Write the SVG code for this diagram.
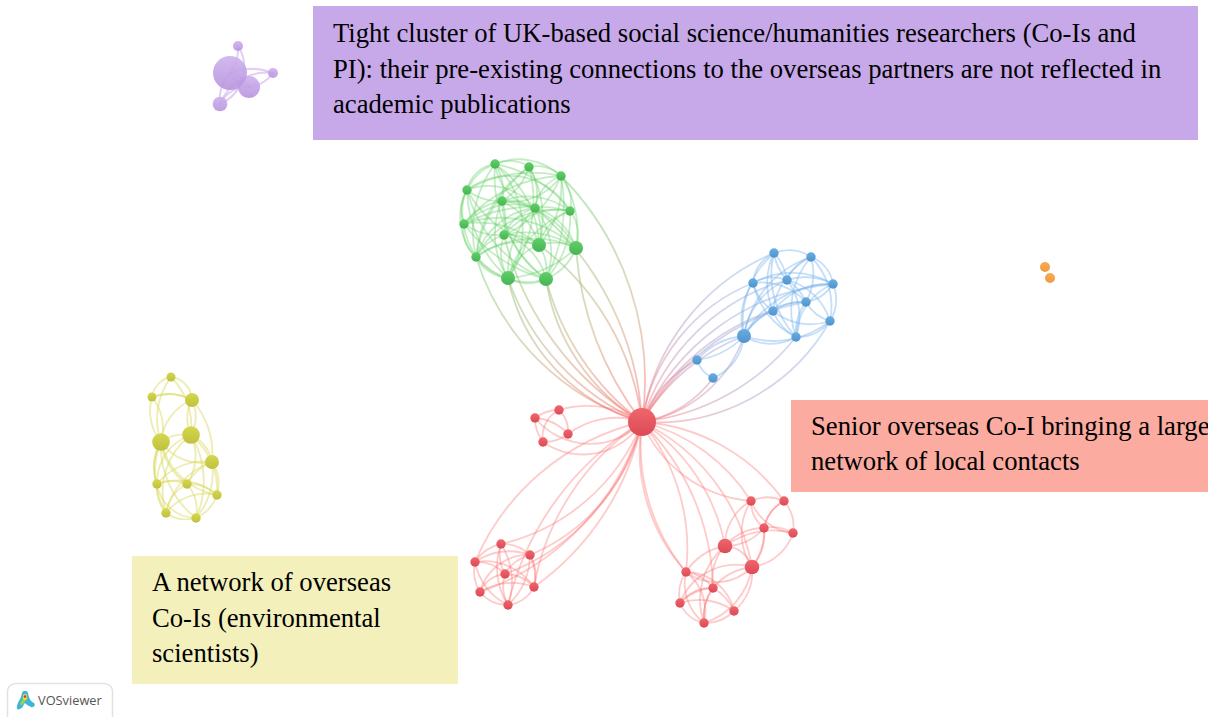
<svg xmlns="http://www.w3.org/2000/svg" width="1208" height="717" viewBox="0 0 1208 717">
<style>
.e{fill:none;stroke-width:1.8;stroke-linecap:round}
.eg{stroke:#63cf66;stroke-opacity:.38}
.eb{stroke:#6fb0ee;stroke-opacity:.4}
.ey{stroke:#dcdc66;stroke-opacity:.5}
.er{stroke:#fb6e6e;stroke-opacity:.36}
.ep{stroke:#c9a8ee;stroke-opacity:.55;stroke-width:2}
.egr{stroke:url(#gr);stroke-opacity:.5}
.ebr{stroke:url(#br);stroke-opacity:.42}
.g{fill:url(#ng)}.b{fill:url(#nb)}.y{fill:url(#ny)}.r{fill:url(#nr)}.p{fill:url(#np);fill-opacity:.9}.o{fill:url(#no)}
.box{font-family:"Liberation Serif","Times New Roman",serif;font-size:26.67px;fill:#000}
</style>
<defs>
<filter id="soft" x="-5%" y="-5%" width="110%" height="110%" color-interpolation-filters="sRGB"><feGaussianBlur stdDeviation="0.45"/></filter>
<linearGradient id="ng" x1="0" y1="0" x2="0" y2="1"><stop offset="0" stop-color="#62cf68"/><stop offset="1" stop-color="#45b553"/></linearGradient>
<linearGradient id="nb" x1="0" y1="0" x2="0" y2="1"><stop offset="0" stop-color="#69ace0"/><stop offset="1" stop-color="#4f94cd"/></linearGradient>
<linearGradient id="ny" x1="0" y1="0" x2="0" y2="1"><stop offset="0" stop-color="#d6d750"/><stop offset="1" stop-color="#bfc13c"/></linearGradient>
<linearGradient id="nr" x1="0" y1="0" x2="0" y2="1"><stop offset="0" stop-color="#f0666a"/><stop offset="1" stop-color="#dc4a58"/></linearGradient>
<linearGradient id="np" x1="0" y1="0" x2="0" y2="1"><stop offset="0" stop-color="#cdb0ee"/><stop offset="1" stop-color="#b793dd"/></linearGradient>
<linearGradient id="no" x1="0" y1="0" x2="0" y2="1"><stop offset="0" stop-color="#f6ab55"/><stop offset="1" stop-color="#ee9a42"/></linearGradient>
<linearGradient id="gr" gradientUnits="userSpaceOnUse" x1="530" y1="230" x2="642" y2="422"><stop offset="0" stop-color="#7dd07a"/><stop offset=".55" stop-color="#c9a97f"/><stop offset="1" stop-color="#fb6e6e"/></linearGradient>
<linearGradient id="br" gradientUnits="userSpaceOnUse" x1="790" y1="280" x2="642" y2="422"><stop offset="0" stop-color="#7fb4ee"/><stop offset=".55" stop-color="#a98fc0"/><stop offset="1" stop-color="#fb6e6e"/></linearGradient>
</defs>
<g id="annotations">
<rect x="313" y="6" width="885" height="134" fill="#c7a9e9"/>
<rect x="791" y="400" width="417" height="92" fill="#fbaba0"/>
<rect x="132" y="556" width="326" height="128" fill="#f3f0bc"/>
</g>
<g id="connectors" filter="url(#soft)">
<!-- green -->
<path class="e eg" d="M495 164A34 34 0 0 1 529 167"/><path class="e eg" d="M529 167A34 34 0 0 1 561 176"/><path class="e eg" d="M495 164A62 62 0 0 1 561 176"/><path class="e eg" d="M467 190A34 34 0 0 1 495 164"/><path class="e eg" d="M464 224A50 50 0 0 1 495 164"/><path class="e eg" d="M464 224A36 36 0 0 1 467 190"/><path class="e eg" d="M476 257A58 58 0 0 1 467 190"/><path class="e eg" d="M476 257A34 34 0 0 1 464 224"/><path class="e eg" d="M508 278A40 40 0 0 1 476 257"/><path class="e eg" d="M508 278A62 62 0 0 1 464 224"/><path class="e eg" d="M546 279A40 40 0 0 1 508 278"/><path class="e eg" d="M546 279A64 64 0 0 1 476 257"/><path class="e eg" d="M576 248A55 55 0 0 1 546 279"/><path class="e eg" d="M576 248A110 110 0 0 1 508 278"/><path class="e eg" d="M570 211A40 40 0 0 1 576 248"/><path class="e eg" d="M570 211A90 90 0 0 1 546 279"/><path class="e eg" d="M561 176A38 38 0 0 1 570 211"/><path class="e eg" d="M561 176A100 100 0 0 1 576 248"/><path class="e eg" d="M561 176A160 160 0 0 1 546 279"/>
<path class="e eg" d="M495 164A50 50 0 0 1 502 201"/><path class="e eg" d="M535 208A52 52 0 0 1 495 164"/><path class="e eg" d="M529 167A60 60 0 0 1 502 201"/><path class="e eg" d="M529 167A50 50 0 0 1 535 208"/><path class="e eg" d="M561 176A60 60 0 0 1 502 201"/><path class="e eg" d="M535 208A40 40 0 0 1 561 176"/><path class="e eg" d="M467 190A60 60 0 0 1 535 208"/><path class="e eg" d="M467 190A70 70 0 0 1 570 211"/><path class="e eg" d="M502 201A50 50 0 0 1 467 190"/><path class="e eg" d="M464 224A60 60 0 0 1 502 201"/><path class="e eg" d="M464 224A70 70 0 0 1 535 208"/><path class="e eg" d="M504 235A60 60 0 0 1 464 224"/><path class="e eg" d="M464 224A110 110 0 0 1 576 248"/><path class="e eg" d="M464 224A90 90 0 0 1 539 245"/><path class="e eg" d="M502 201A70 70 0 0 1 570 211"/><path class="e eg" d="M502 201A50 50 0 0 1 535 208"/><path class="e eg" d="M502 201A60 60 0 0 1 504 235"/><path class="e eg" d="M504 235A50 50 0 0 1 535 208"/><path class="e eg" d="M504 235A70 70 0 0 1 570 211"/><path class="e eg" d="M504 235A50 50 0 0 1 539 245"/><path class="e eg" d="M504 235A90 90 0 0 1 576 248"/><path class="e eg" d="M476 257A50 50 0 0 1 504 235"/><path class="e eg" d="M476 257A70 70 0 0 1 535 208"/><path class="e eg" d="M476 257A90 90 0 0 1 570 211"/><path class="e eg" d="M476 257A70 70 0 0 1 539 245"/><path class="e eg" d="M476 257A100 100 0 0 1 576 248"/><path class="e eg" d="M502 201A70 70 0 0 1 539 245"/><path class="e eg" d="M502 201A90 90 0 0 1 576 248"/><path class="e eg" d="M535 208A60 60 0 0 1 576 248"/><path class="e eg" d="M535 208A50 50 0 0 1 539 245"/><path class="e eg" d="M539 245A50 50 0 0 1 570 211"/><path class="e eg" d="M539 245A50 50 0 0 1 576 248"/><path class="e eg" d="M508 278A50 50 0 0 1 504 235"/><path class="e eg" d="M508 278A80 80 0 0 1 502 201"/><path class="e eg" d="M504 235A60 60 0 0 1 546 279"/><path class="e eg" d="M508 278A50 50 0 0 1 539 245"/><path class="e eg" d="M539 245A50 50 0 0 1 546 279"/><path class="e eg" d="M535 208A70 70 0 0 1 546 279"/><path class="e eg" d="M546 279A100 100 0 0 1 502 201"/><path class="e eg" d="M508 278A90 90 0 0 1 535 208"/><path class="e eg" d="M508 278A100 100 0 0 1 570 211"/><path class="e eg" d="M495 164A90 90 0 0 1 508 278"/><path class="e eg" d="M529 167A130 130 0 0 1 508 278"/><path class="e eg" d="M529 167A100 100 0 0 1 539 245"/><path class="e eg" d="M495 164A100 100 0 0 1 539 245"/><path class="e eg" d="M476 257A110 110 0 0 1 495 164"/><path class="e eg" d="M476 257A120 120 0 0 1 529 167"/><path class="e eg" d="M561 176A110 110 0 0 1 504 235"/><path class="e eg" d="M561 176A90 90 0 0 1 539 245"/><path class="e eg" d="M467 190A130 130 0 0 1 561 176"/><path class="e eg" d="M467 190A110 110 0 0 0 539 245"/><path class="e eg" d="M467 190A130 130 0 0 0 546 279"/><path class="e eg" d="M467 190A120 120 0 0 0 508 278"/><path class="e eg" d="M464 224A150 150 0 0 1 570 211"/><path class="e eg" d="M464 224A150 150 0 0 0 546 279"/><path class="e eg" d="M495 164A130 130 0 0 0 546 279"/><path class="e eg" d="M529 167A140 140 0 0 0 476 257"/><path class="e eg" d="M561 176A130 130 0 0 0 464 224"/><path class="e eg" d="M570 211A120 120 0 0 0 495 164"/>
<!-- green to centre -->
<path class="e egr" d="M476 257A250 250 0 0 0 642 422"/><path class="e egr" d="M508 278A240 240 0 0 0 642 422"/><path class="e egr" d="M504 235A300 300 0 0 0 642 422"/><path class="e egr" d="M508 278A190 190 0 0 0 642 422"/><path class="e egr" d="M546 279A260 260 0 0 0 642 422"/><path class="e egr" d="M576 248A320 320 0 0 0 642 422"/><path class="e egr" d="M546 279A200 200 0 0 0 642 422"/><path class="e egr" d="M539 245A260 260 0 0 1 642 422"/><path class="e egr" d="M535 208A300 300 0 0 1 642 422"/><path class="e egr" d="M561 176A290 290 0 0 1 642 422"/>
<!-- blue -->
<path class="e eb" d="M774 253A40 40 0 0 1 811 257"/><path class="e eb" d="M811 257A34 34 0 0 1 833 284"/><path class="e eb" d="M833 284A40 40 0 0 1 830 321"/><path class="e eb" d="M811 257A70 70 0 0 1 830 321"/><path class="e eb" d="M830 321A40 40 0 0 1 796 337"/><path class="e eb" d="M796 337A50 50 0 0 1 744 336"/><path class="e eb" d="M830 321A90 90 0 0 1 744 336"/><path class="e eb" d="M753 283A36 36 0 0 1 774 253"/><path class="e eb" d="M744 336A60 60 0 0 1 753 283"/><path class="e eb" d="M744 336A90 90 0 0 1 774 253"/><path class="e eb" d="M774 253A50 50 0 0 1 787 280"/><path class="e eb" d="M787 280A50 50 0 0 1 774 253"/><path class="e eb" d="M787 280A40 40 0 0 1 811 257"/><path class="e eb" d="M787 280A60 60 0 0 1 833 284"/><path class="e eb" d="M753 283A40 40 0 0 1 787 280"/><path class="e eb" d="M753 283A80 80 0 0 1 833 284"/><path class="e eb" d="M753 283A60 60 0 0 1 806 302"/><path class="e eb" d="M753 283A50 50 0 0 0 773 311"/><path class="e eb" d="M753 283A80 80 0 0 0 796 337"/><path class="e eb" d="M774 253A70 70 0 0 0 773 311"/><path class="e eb" d="M774 253A90 90 0 0 0 796 337"/><path class="e eb" d="M811 257A60 60 0 0 1 806 302"/><path class="e eb" d="M811 257A80 80 0 0 0 796 337"/><path class="e eb" d="M811 257A70 70 0 0 0 773 311"/><path class="e eb" d="M833 284A40 40 0 0 1 806 302"/><path class="e eb" d="M773 311A70 70 0 0 1 833 284"/><path class="e eb" d="M787 280A50 50 0 0 1 806 302"/><path class="e eb" d="M787 280A60 60 0 0 1 830 321"/><path class="e eb" d="M787 280A60 60 0 0 1 796 337"/><path class="e eb" d="M744 336A70 70 0 0 1 787 280"/><path class="e eb" d="M744 336A70 70 0 0 1 806 302"/><path class="e eb" d="M744 336A100 100 0 0 1 833 284"/><path class="e eb" d="M744 336A60 60 0 0 1 773 311"/><path class="e eb" d="M744 336A100 100 0 0 1 811 257"/><path class="e eb" d="M773 311A50 50 0 0 1 806 302"/><path class="e eb" d="M773 311A60 60 0 0 0 830 321"/><path class="e eb" d="M773 311A50 50 0 0 0 796 337"/><path class="e eb" d="M806 302A40 40 0 0 0 830 321"/><path class="e eb" d="M796 337A50 50 0 0 1 806 302"/><path class="e eb" d="M796 337A60 60 0 0 1 833 284"/><path class="e eb" d="M697 360A70 70 0 0 1 744 336"/><path class="e eb" d="M697 360A30 30 0 0 0 713 378"/><path class="e eb" d="M713 378A50 50 0 0 0 744 336"/><path class="e eb" d="M744 336A80 80 0 0 1 697 360"/>
<!-- blue to centre -->
<path class="e ebr" d="M642 422A220 220 0 0 1 774 253"/><path class="e ebr" d="M642 422A180 180 0 0 1 753 283"/><path class="e ebr" d="M642 422A210 210 0 0 1 787 280"/><path class="e ebr" d="M642 422A230 230 0 0 1 806 302"/><path class="e ebr" d="M642 422A260 260 0 0 1 773 311"/><path class="e ebr" d="M642 422A230 230 0 0 1 833 284"/><path class="e ebr" d="M642 422A200 200 0 0 1 744 336"/><path class="e ebr" d="M642 422A120 120 0 0 1 697 360"/><path class="e ebr" d="M642 422A110 110 0 0 0 713 378"/><path class="e ebr" d="M642 422A130 130 0 0 0 744 336"/><path class="e ebr" d="M642 422A230 230 0 0 0 796 337"/><path class="e ebr" d="M642 422A200 200 0 0 0 830 321"/>
<!-- yellow -->
<path class="e ey" d="M152 397A24 24 0 0 1 171 377"/><path class="e ey" d="M171 377A24 24 0 0 1 192 400"/><path class="e ey" d="M152 397A50 50 0 0 1 192 400"/><path class="e ey" d="M192 400A50 50 0 0 0 152 397"/><path class="e ey" d="M161 442A50 50 0 0 1 152 397"/><path class="e ey" d="M161 442A70 70 0 0 1 171 377"/><path class="e ey" d="M161 442A50 50 0 0 1 192 400"/><path class="e ey" d="M152 397A50 50 0 0 1 161 442"/><path class="e ey" d="M191 435A40 40 0 0 1 192 400"/><path class="e ey" d="M192 400A40 40 0 0 1 191 435"/><path class="e ey" d="M171 377A70 70 0 0 1 191 435"/><path class="e ey" d="M161 442A40 40 0 0 1 191 435"/><path class="e ey" d="M191 435A36 36 0 0 1 212 462"/><path class="e ey" d="M192 400A80 80 0 0 1 212 462"/><path class="e ey" d="M161 442A50 50 0 0 0 212 462"/><path class="e ey" d="M212 462A40 40 0 0 1 217 495"/><path class="e ey" d="M212 462A70 70 0 0 1 196 518"/><path class="e ey" d="M212 462A50 50 0 0 0 187 484"/><path class="e ey" d="M212 462A60 60 0 0 0 157 484"/><path class="e ey" d="M212 462A70 70 0 0 0 166 513"/><path class="e ey" d="M161 442A50 50 0 0 0 157 484"/><path class="e ey" d="M157 484A50 50 0 0 1 161 442"/><path class="e ey" d="M161 442A80 80 0 0 0 166 513"/><path class="e ey" d="M161 442A60 60 0 0 0 187 484"/><path class="e ey" d="M161 442A70 70 0 0 0 217 495"/><path class="e ey" d="M161 442A90 90 0 0 0 196 518"/><path class="e ey" d="M191 435A50 50 0 0 0 157 484"/><path class="e ey" d="M191 435A50 50 0 0 1 187 484"/><path class="e ey" d="M191 435A70 70 0 0 0 166 513"/><path class="e ey" d="M191 435A90 90 0 0 1 196 518"/><path class="e ey" d="M191 435A70 70 0 0 1 217 495"/><path class="e ey" d="M157 484A40 40 0 0 1 187 484"/><path class="e ey" d="M157 484A60 60 0 0 1 217 495"/><path class="e ey" d="M166 513A40 40 0 0 1 157 484"/><path class="e ey" d="M157 484A40 40 0 0 0 196 518"/><path class="e ey" d="M187 484A40 40 0 0 1 217 495"/><path class="e ey" d="M166 513A40 40 0 0 1 187 484"/><path class="e ey" d="M187 484A40 40 0 0 1 196 518"/><path class="e ey" d="M166 513A50 50 0 0 1 217 495"/><path class="e ey" d="M196 518A40 40 0 0 0 217 495"/><path class="e ey" d="M196 518A36 36 0 0 1 166 513"/>
<!-- red top-left group -->
<path class="e er" d="M535 418A40 40 0 0 1 559 410"/><path class="e er" d="M559 410A30 30 0 0 1 568 434"/><path class="e er" d="M543 442A30 30 0 0 1 559 410"/><path class="e er" d="M535 418A40 40 0 0 0 543 442"/><path class="e er" d="M535 418A50 50 0 0 1 568 434"/><path class="e er" d="M568 434A40 40 0 0 1 543 442"/><path class="e er" d="M559 410A100 100 0 0 1 642 422"/><path class="e er" d="M568 434A80 80 0 0 1 642 422"/><path class="e er" d="M543 442A70 70 0 0 0 642 422"/><path class="e er" d="M535 418A72 72 0 0 0 642 422"/>
<!-- red south-west group -->
<path class="e er" d="M475 562A240 240 0 0 1 642 422"/><path class="e er" d="M501 544A200 200 0 0 0 642 422"/><path class="e er" d="M530 555A190 190 0 0 0 642 422"/><path class="e er" d="M505 574A220 220 0 0 0 642 422"/><path class="e er" d="M480 592A260 260 0 0 0 642 422"/><path class="e er" d="M534 587A250 250 0 0 1 642 422"/><path class="e er" d="M508 605A290 290 0 0 1 642 422"/><path class="e er" d="M534 587A270 270 0 0 0 642 422"/>
<path class="e er" d="M475 562A40 40 0 0 1 501 544"/><path class="e er" d="M501 544A40 40 0 0 1 530 555"/><path class="e er" d="M475 562A60 60 0 0 1 530 555"/><path class="e er" d="M480 592A40 40 0 0 1 475 562"/><path class="e er" d="M508 605A36 36 0 0 1 480 592"/><path class="e er" d="M534 587A34 34 0 0 1 508 605"/><path class="e er" d="M530 555A40 40 0 0 1 534 587"/><path class="e er" d="M534 587A50 50 0 0 0 530 555"/><path class="e er" d="M501 544A40 40 0 0 0 505 574"/><path class="e er" d="M501 544A70 70 0 0 0 508 605"/><path class="e er" d="M508 605A70 70 0 0 0 501 544"/><path class="e er" d="M475 562A40 40 0 0 1 505 574"/><path class="e er" d="M475 562A60 60 0 0 1 534 587"/><path class="e er" d="M475 562A60 60 0 0 0 508 605"/><path class="e er" d="M480 592A50 50 0 0 1 530 555"/><path class="e er" d="M505 574A40 40 0 0 1 530 555"/><path class="e er" d="M480 592A30 30 0 0 1 505 574"/><path class="e er" d="M480 592A60 60 0 0 1 534 587"/><path class="e er" d="M505 574A40 40 0 0 1 534 587"/><path class="e er" d="M505 574A40 40 0 0 0 508 605"/><path class="e er" d="M508 605A70 70 0 0 0 530 555"/>
<!-- red south-east group -->
<path class="e er" d="M642 422A190 190 0 0 1 784 501"/><path class="e er" d="M642 422A180 180 0 0 1 751 501"/><path class="e er" d="M642 422A130 130 0 0 0 751 501"/><path class="e er" d="M642 422A200 200 0 0 1 752 567"/><path class="e er" d="M642 422A190 190 0 0 1 725 546"/><path class="e er" d="M642 422A240 240 0 0 1 713 588"/><path class="e er" d="M642 422A200 200 0 0 1 686 572"/><path class="e er" d="M642 422A200 200 0 0 0 686 572"/><path class="e er" d="M642 422A180 180 0 0 0 686 572"/>
<path class="e er" d="M751 501A40 40 0 0 1 784 501"/><path class="e er" d="M764 528A40 40 0 0 1 784 501"/><path class="e er" d="M784 501A40 40 0 0 0 764 528"/><path class="e er" d="M751 501A34 34 0 0 0 764 528"/><path class="e er" d="M784 501A40 40 0 0 1 793 533"/><path class="e er" d="M751 501A50 50 0 0 0 793 533"/><path class="e er" d="M764 528A40 40 0 0 1 793 533"/><path class="e er" d="M725 546A50 50 0 0 1 764 528"/><path class="e er" d="M764 528A50 50 0 0 1 725 546"/><path class="e er" d="M725 546A80 80 0 0 1 793 533"/><path class="e er" d="M725 546A50 50 0 0 1 751 501"/><path class="e er" d="M752 567A50 50 0 0 0 793 533"/><path class="e er" d="M752 567A60 60 0 0 0 764 528"/><path class="e er" d="M752 567A60 60 0 0 1 751 501"/><path class="e er" d="M764 528A50 50 0 0 1 752 567"/><path class="e er" d="M725 546A30 30 0 0 1 752 567"/><path class="e er" d="M686 572A60 60 0 0 1 725 546"/><path class="e er" d="M713 588A50 50 0 0 1 725 546"/><path class="e er" d="M752 567A60 60 0 0 0 713 588"/><path class="e er" d="M752 567A60 60 0 0 0 680 603"/><path class="e er" d="M686 572A50 50 0 0 0 752 567"/><path class="e er" d="M752 567A50 50 0 0 1 734 611"/><path class="e er" d="M704 623A70 70 0 0 0 752 567"/><path class="e er" d="M686 572A40 40 0 0 1 713 588"/><path class="e er" d="M686 572A40 40 0 0 0 680 603"/><path class="e er" d="M686 572A50 50 0 0 1 734 611"/><path class="e er" d="M686 572A50 50 0 0 0 704 623"/><path class="e er" d="M686 572A50 50 0 0 1 704 623"/><path class="e er" d="M680 603A40 40 0 0 1 713 588"/><path class="e er" d="M680 603A60 60 0 0 1 734 611"/><path class="e er" d="M704 623A40 40 0 0 0 734 611"/><path class="e er" d="M680 603A34 34 0 0 0 704 623"/><path class="e er" d="M713 588A50 50 0 0 1 734 611"/><path class="e er" d="M704 623A50 50 0 0 1 713 588"/><path class="e er" d="M713 588A50 50 0 0 0 680 603"/><path class="e er" d="M713 588A50 50 0 0 0 704 623"/><path class="e er" d="M725 546A70 70 0 0 0 704 623"/>
<!-- purple -->
<path class="e ep" d="M238 46A40 40 0 0 1 230 73"/><path class="e ep" d="M230 73A60 60 0 0 1 273 73"/><path class="e ep" d="M273 73A34 34 0 0 1 249 87"/><path class="e ep" d="M220 104A50 50 0 0 1 273 73"/><path class="e ep" d="M220 104A40 40 0 0 1 230 73"/><path class="e ep" d="M220 104A30 30 0 0 1 249 87"/><path class="e ep" d="M230 73A26 26 0 0 1 249 87"/><path class="e ep" d="M249 87A26 26 0 0 1 230 73"/><path class="e ep" d="M238 46A40 40 0 0 1 220 104"/>
</g>
<g id="nodes" filter="url(#soft)">
<g id="n-g1"><circle class="g" cx="495" cy="164" r="4.7"/></g><g id="n-g2"><circle class="g" cx="529" cy="167" r="4.7"/></g><g id="n-g3"><circle class="g" cx="561" cy="176" r="4.7"/></g><g id="n-g4"><circle class="g" cx="467" cy="190" r="4.7"/></g><g id="n-g5"><circle class="g" cx="502" cy="201" r="4.7"/></g><g id="n-g6"><circle class="g" cx="535" cy="208" r="4.7"/></g><g id="n-g7"><circle class="g" cx="570" cy="211" r="4.7"/></g><g id="n-g8"><circle class="g" cx="464" cy="224" r="4.7"/></g><g id="n-g9"><circle class="g" cx="504" cy="235" r="4.7"/></g><g id="n-g10"><circle class="g" cx="539" cy="245" r="7"/></g><g id="n-g11"><circle class="g" cx="576" cy="248" r="7"/></g><g id="n-g12"><circle class="g" cx="476" cy="257" r="4.7"/></g><g id="n-g13"><circle class="g" cx="508" cy="278" r="7"/></g><g id="n-g14"><circle class="g" cx="546" cy="279" r="7"/></g>
<g id="n-b1"><circle class="b" cx="774" cy="253" r="4.7"/></g><g id="n-b2"><circle class="b" cx="811" cy="257" r="4.7"/></g><g id="n-b3"><circle class="b" cx="753" cy="283" r="4.7"/></g><g id="n-b4"><circle class="b" cx="787" cy="280" r="4.7"/></g><g id="n-b5"><circle class="b" cx="833" cy="284" r="4.7"/></g><g id="n-b6"><circle class="b" cx="806" cy="302" r="4.7"/></g><g id="n-b7"><circle class="b" cx="773" cy="311" r="4.7"/></g><g id="n-b8"><circle class="b" cx="830" cy="321" r="4.7"/></g><g id="n-b9"><circle class="b" cx="796" cy="337" r="4.7"/></g><g id="n-b10"><circle class="b" cx="744" cy="336" r="7"/></g><g id="n-b11"><circle class="b" cx="697" cy="360" r="4.7"/></g><g id="n-b12"><circle class="b" cx="713" cy="378" r="4.7"/></g>
<g id="n-y1"><circle class="y" cx="171" cy="377" r="4.5"/></g><g id="n-y2"><circle class="y" cx="152" cy="397" r="4.5"/></g><g id="n-y3"><circle class="y" cx="192" cy="400" r="7"/></g><g id="n-y4"><circle class="y" cx="161" cy="442" r="8.8"/></g><g id="n-y5"><circle class="y" cx="191" cy="435" r="8.8"/></g><g id="n-y6"><circle class="y" cx="212" cy="462" r="7"/></g><g id="n-y7"><circle class="y" cx="157" cy="484" r="4.7"/></g><g id="n-y8"><circle class="y" cx="187" cy="484" r="4.7"/></g><g id="n-y9"><circle class="y" cx="217" cy="495" r="4.7"/></g><g id="n-y10"><circle class="y" cx="166" cy="513" r="4.7"/></g><g id="n-y11"><circle class="y" cx="196" cy="518" r="4.7"/></g>
<g id="n-r0"><circle class="r" cx="642" cy="422" r="14"/></g>
<g id="n-r1"><circle class="r" cx="535" cy="418" r="4.7"/></g><g id="n-r2"><circle class="r" cx="559" cy="410" r="4.7"/></g><g id="n-r3"><circle class="r" cx="568" cy="434" r="4.7"/></g><g id="n-r4"><circle class="r" cx="543" cy="442" r="4.7"/></g>
<g id="n-r5"><circle class="r" cx="501" cy="544" r="4.7"/></g><g id="n-r6"><circle class="r" cx="475" cy="562" r="4.7"/></g><g id="n-r7"><circle class="r" cx="530" cy="555" r="4.7"/></g><g id="n-r8"><circle class="r" cx="505" cy="574" r="4.7"/></g><g id="n-r9"><circle class="r" cx="534" cy="587" r="4.7"/></g><g id="n-r10"><circle class="r" cx="480" cy="592" r="4.7"/></g><g id="n-r11"><circle class="r" cx="508" cy="605" r="4.7"/></g>
<g id="n-r12"><circle class="r" cx="751" cy="501" r="4.7"/></g><g id="n-r13"><circle class="r" cx="784" cy="501" r="4.7"/></g><g id="n-r14"><circle class="r" cx="764" cy="528" r="4.7"/></g><g id="n-r15"><circle class="r" cx="793" cy="533" r="4.7"/></g><g id="n-r16"><circle class="r" cx="725" cy="546" r="7.3"/></g><g id="n-r17"><circle class="r" cx="752" cy="567" r="7.3"/></g><g id="n-r18"><circle class="r" cx="686" cy="572" r="4.7"/></g><g id="n-r19"><circle class="r" cx="713" cy="588" r="4.7"/></g><g id="n-r20"><circle class="r" cx="680" cy="603" r="4.7"/></g><g id="n-r21"><circle class="r" cx="734" cy="611" r="4.7"/></g><g id="n-r22"><circle class="r" cx="704" cy="623" r="4.7"/></g>
<g id="n-p1"><circle class="p" cx="238" cy="46" r="5"/></g><g id="n-p3"><circle class="p" cx="249" cy="87" r="11"/></g><g id="n-p2"><circle class="p" cx="230" cy="73" r="17"/></g><g id="n-p4"><circle class="p" cx="273" cy="73" r="5"/></g><g id="n-p5"><circle class="p" cx="220" cy="104" r="7.3"/></g>
<g id="n-o1"><circle class="o" cx="1045" cy="267" r="5"/></g><g id="n-o2"><circle class="o" cx="1050" cy="278" r="5"/></g>
</g>
<g id="labels">
<text class="box" x="333" y="42">Tight cluster of UK-based social science/humanities researchers (Co-Is and</text>
<text class="box" x="333" y="78">PI): their pre-existing connections to the overseas partners are not reflected in</text>
<text class="box" x="333" y="113">academic publications</text>
<text class="box" x="811" y="435">Senior overseas Co-I bringing a large</text>
<text class="box" x="811" y="470">network of local contacts</text>
<text class="box" x="152" y="591">A network of overseas</text>
<text class="box" x="152" y="627">Co-Is (environmental</text>
<text class="box" x="152" y="662">scientists)</text>
</g>
<g id="logo">
<rect x="7.500" y="683.500" width="105" height="40" rx="8" fill="#fff" stroke="#e2e2e2" stroke-width="1.500"/>
<path d="M17 706C18 701 21 699 22 693C23 690 27 690 28 693C29 698 30 701 34 703C36 705 34 708 31 707C28 706 26 704 25 703C23 705 23 708 20 709C18 710 16 709 17 706Z" fill="#3fb6d8"/>
<path d="M20 704C21 701 23 699 24 695C25 693 27 694 27 697C27 700 25 701 24 703C23 705 21 706 20 704Z" fill="#8fd35a"/>
<ellipse cx="25" cy="697" rx="2.200" ry="3" fill="#f0d93a"/>
<circle cx="25" cy="696.500" r="1.300" fill="#d8322a"/>
<text x="38" y="705" font-family="'Open Sans','Noto Sans',sans-serif" font-size="12.800" fill="#555">VOSviewer</text>
</g>
</svg>
